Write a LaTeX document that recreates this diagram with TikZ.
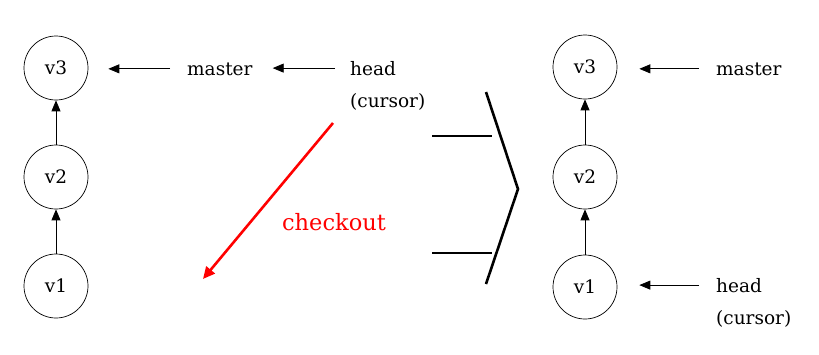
\documentclass[tikz,border=0pt]{standalone}
\usepackage{fontspec}
\setmainfont{DejaVu Serif}
\usetikzlibrary{arrows.meta}
\begin{document}
\begin{tikzpicture}[x=1pt,y=-1pt,
  commit/.style={draw, circle, minimum size=64pt, inner sep=0pt, line width=0.7pt, font=\fontsize{18.5}{20}\selectfont},
  lbl/.style={anchor=base west, inner sep=0pt, font=\fontsize{18.5}{20}\selectfont},
  arr/.style={-{Triangle[length=11pt,width=9pt]}, line width=0.8pt},
  ptr/.style={arr, shorten <=17pt, shorten >=20pt},
  chev/.style={line width=2.6pt},
  redarr/.style={red, line width=2.6pt, -{Triangle[length=12pt,width=11pt]}}]
\useasboundingbox (0,0) rectangle (819,354);
% left graph
\node[commit] (v3L) at (56,68) {v3};
\node[commit] (v2L) at (56,177) {v2};
\node[commit] (v1L) at (56,286) {v1};
\draw[arr] (v1L) -- (v2L);
\draw[arr] (v2L) -- (v3L);
\node[lbl] (mL) at (187,75) {master};
\node[lbl] (hL) at (350,75) {head};
\node[lbl] (cL) at (350,107) {(cursor)};
\draw[ptr] (mL.west) -- (mL.west -| v3L.east);
\draw[ptr, shorten <=15pt] (hL.west) -- (hL.west -| mL.east);
% checkout arrow
\coordinate (rs) at (333,123);
\coordinate (re) at (203,279);
\draw[redarr] (rs) -- (re);
\node[anchor=base, inner sep=0pt, red, font=\fontsize{22.5}{24}\selectfont] (co) at (334,230) {checkout};
% big arrow
\coordinate (c1) at (486,92);
\coordinate (c2) at (518,189);
\coordinate (c3) at (486,284);
\coordinate (h1a) at (432,136);
\coordinate (h1b) at (492,136);
\coordinate (h2a) at (432,253);
\coordinate (h2b) at (492,253);
\draw[chev] (c1) -- (c2) -- (c3);
\draw[chev] (h1a) -- (h1b);
\draw[chev] (h2a) -- (h2b);
% right graph
\node[commit] (v3R) at (585,67) {v3};
\node[commit] (v2R) at (585,177) {v2};
\node[commit] (v1R) at (585,287) {v1};
\draw[arr] (v1R) -- (v2R);
\draw[arr] (v2R) -- (v3R);
\node[lbl] (mR) at (716,75) {master};
\node[lbl] (hR) at (716,292) {head};
\node[lbl] (cR) at (716,324) {(cursor)};
\draw[ptr, shorten >=22pt] (mR.west) -- (mR.west -| v3R.east);
\draw[ptr, shorten >=22pt] (hR.west) -- (hR.west -| v1R.east);
\end{tikzpicture}
\end{document}
